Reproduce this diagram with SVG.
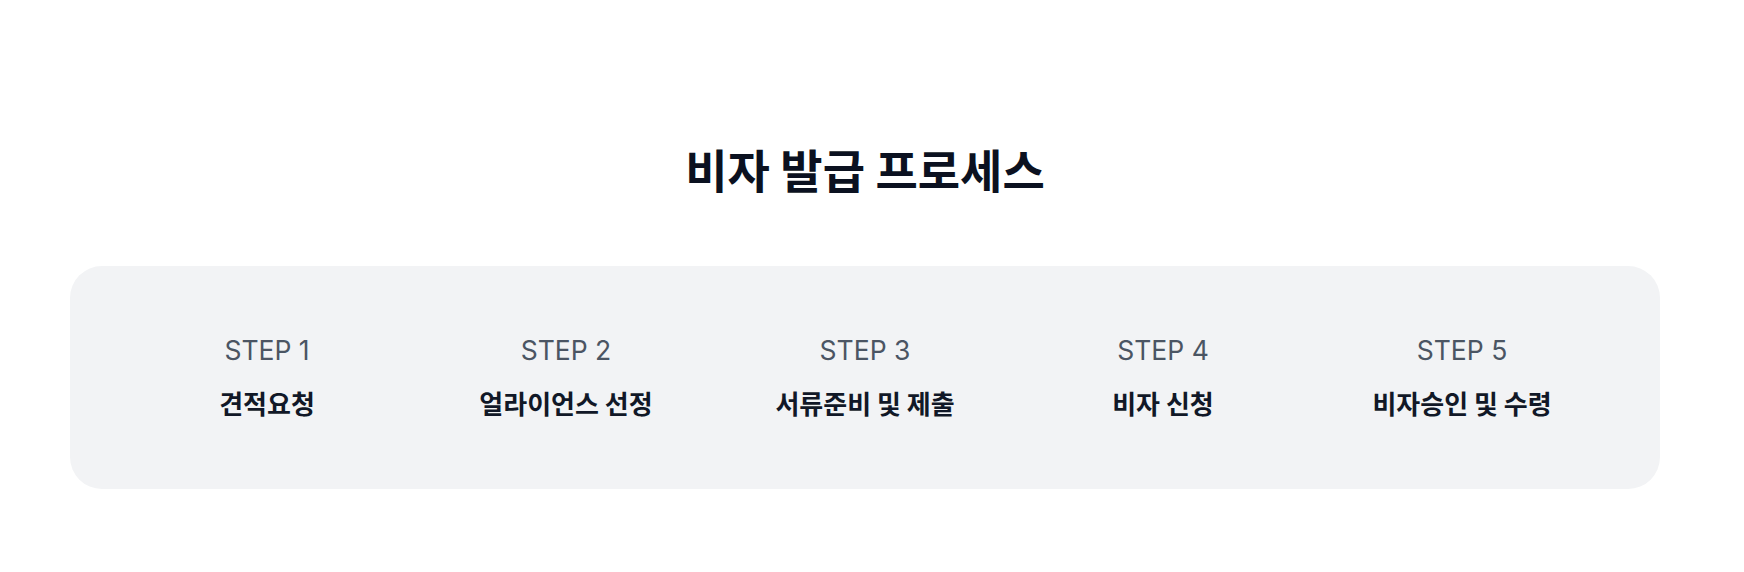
<svg xmlns="http://www.w3.org/2000/svg" width="1744" height="572" viewBox="0 0 1744 572">
<style>
.title{font-family:"Noto Sans CJK KR","Noto Sans",sans-serif;font-weight:700;font-size:46px;fill:#0b1120;text-anchor:middle}
.step{font-family:Inter,"Noto Sans",sans-serif;font-size:26.5px;fill:#4b5563;text-anchor:middle}
.label{font-family:"Noto Sans CJK KR","Noto Sans",sans-serif;font-weight:700;font-size:26px;fill:#111827;text-anchor:middle}
</style>
<rect width="1744" height="572" fill="#ffffff"/>
<text class="title" x="865" y="188">비자 발급 프로세스</text>
<rect x="70" y="266" width="1590" height="223" rx="32" fill="#f2f3f5"/>
<g id="connectors"></g>
<g id="step1"><text class="step" x="267" y="360">STEP 1</text><text class="label" x="267" y="414">견적요청</text></g>
<g id="step2"><text class="step" x="566" y="360">STEP 2</text><text class="label" x="566" y="414">얼라이언스 선정</text></g>
<g id="step3"><text class="step" x="865" y="360">STEP 3</text><text class="label" x="865" y="414">서류준비 및 제출</text></g>
<g id="step4"><text class="step" x="1163" y="360">STEP 4</text><text class="label" x="1163" y="414">비자 신청</text></g>
<g id="step5"><text class="step" x="1462" y="360">STEP 5</text><text class="label" x="1462" y="414">비자승인 및 수령</text></g>
</svg>
